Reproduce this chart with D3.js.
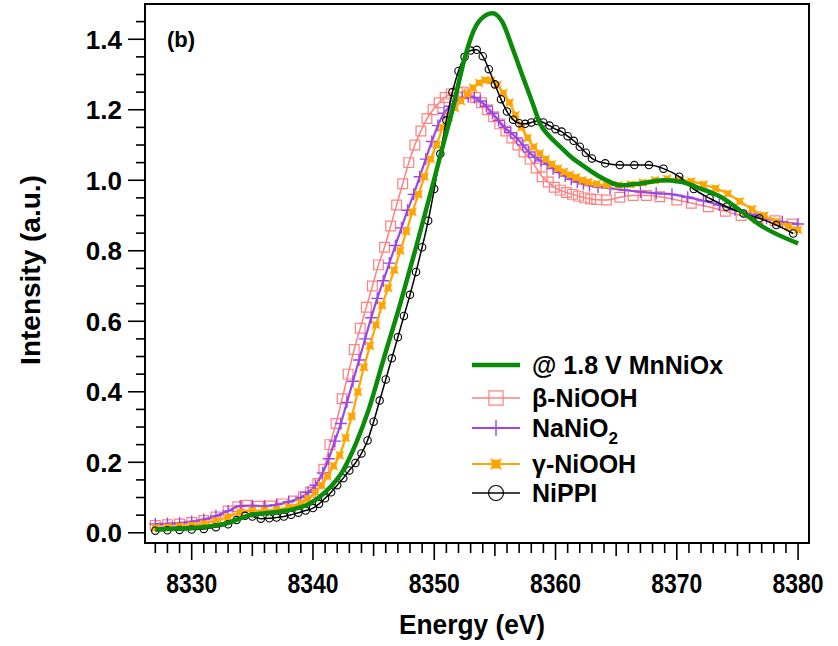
<!DOCTYPE html>
<html>
<head>
<meta charset="utf-8">
<script src="https://cdn.jsdelivr.net/npm/d3@7"></script>
<style>
  body { margin: 0; background: #fff; }
  svg { display: block; }
</style>
</head>
<body>
<div id="chart"></div>
<script>
// ---- datos (energia eV, intensidad u.a.) ----
var mnNiOx = [[8327,0.009],[8329,0.012],[8331,0.016],[8333,0.028],[8334.8,0.050],[8336.5,0.057],[8338.4,0.067],
  [8339.8,0.084],[8341.1,0.118],[8342.5,0.178],[8343.6,0.258],[8344.6,0.35],[8345.8,0.49],[8347.2,0.65],[8348.5,0.81],
  [8349.9,0.99],[8350.5,1.07],[8351.5,1.2],[8352.5,1.345],[8353.2,1.42],[8353.8,1.455],[8354.8,1.474],[8355.6,1.45],
  [8356.5,1.37],[8357.3,1.294],[8358.2,1.21],[8358.7,1.162],[8359.5,1.125],[8360.4,1.095],[8361.5,1.06],[8362,1.048],
  [8363.4,1.015],[8364.2,1.0],[8365.3,0.986],[8367,0.991],[8368.9,1.0],[8370.3,0.996],[8371.9,0.977],[8373.6,0.953],
  [8375.2,0.915],[8377.1,0.868],[8380,0.821]];

var betaNiOOH = [[8327,0.021],[8328,0.023],[8329,0.025],[8330,0.029],[8331,0.035],[8332,0.045],[8333,0.062],[8333.8,0.074],
  [8334.5,0.078],[8335.5,0.075],[8336.5,0.076],[8337.5,0.082],[8338.4,0.09],[8339.2,0.102],[8339.8,0.115],[8340.4,0.14],
  [8340.9,0.18],[8341.4,0.25],[8341.9,0.31],[8342.4,0.38],[8342.9,0.45],[8343.4,0.52],[8343.9,0.58],[8344.4,0.64],
  [8344.9,0.70],[8345.4,0.76],[8345.9,0.81],[8346.4,0.87],[8346.9,0.93],[8347.4,0.99],[8347.9,1.05],[8348.4,1.10],
  [8348.9,1.14],[8349.4,1.175],[8349.9,1.20],[8350.4,1.22],[8350.9,1.235],[8351.4,1.245],[8351.9,1.25],[8352.4,1.25],
  [8352.9,1.245],[8353.4,1.235],[8353.9,1.22],[8354.4,1.20],[8354.9,1.18],[8355.4,1.16],[8355.9,1.14],[8356.4,1.12],
  [8356.9,1.10],[8357.4,1.08],[8357.9,1.06],[8358.4,1.035],[8358.9,1.01],[8359.4,0.995],[8359.9,0.98],[8360.4,0.972],
  [8360.9,0.965],[8361.4,0.96],[8361.9,0.955],[8362.4,0.95],[8362.9,0.947],[8363.4,0.945],[8364.2,0.944],[8365.3,0.952],
  [8366.4,0.957],[8367.5,0.957],[8368.6,0.953],[8370,0.944],[8371.2,0.935],[8372.6,0.925],[8374,0.912],[8375.3,0.9],
  [8376.7,0.892],[8378.1,0.885],[8379.5,0.876]];

var naNiO2 = [[8327,0.025],[8328,0.026],[8329,0.028],[8330,0.032],[8331,0.038],[8332,0.048],[8333,0.062],[8334,0.076],
  [8335,0.077],[8336,0.076],[8337,0.08],[8338,0.088],[8339,0.1],[8339.6,0.115],[8340.2,0.135],[8340.8,0.17],[8341.3,0.21],
  [8341.8,0.26],[8342.3,0.31],[8342.8,0.37],[8343.3,0.43],[8343.8,0.49],[8344.3,0.55],[8344.8,0.61],[8345.3,0.665],
  [8345.8,0.715],[8346.3,0.765],[8346.8,0.815],[8347.3,0.865],[8347.8,0.915],[8348.3,0.96],[8348.8,1.01],[8349.3,1.06],
  [8349.8,1.11],[8350.3,1.155],[8350.8,1.19],[8351.3,1.21],[8351.8,1.225],[8352.3,1.233],[8352.8,1.237],[8353.3,1.235],
  [8353.8,1.225],[8354.3,1.21],[8354.8,1.19],[8355.3,1.17],[8355.8,1.15],[8356.3,1.135],[8356.8,1.12],[8357.3,1.10],
  [8357.8,1.08],[8358.3,1.065],[8358.8,1.055],[8359.3,1.045],[8359.8,1.033],[8360.3,1.022],[8360.8,1.012],[8361.3,1.003],
  [8361.8,0.995],[8362.3,0.99],[8362.8,0.985],[8363.5,0.981],[8364.5,0.977],[8365.7,0.972],[8367,0.967],[8368.3,0.963],
  [8369.6,0.96],[8370.9,0.952],[8372.2,0.942],[8373.5,0.93],[8374.8,0.916],[8376.1,0.903],[8377.4,0.892],[8378.7,0.882],
  [8380,0.876]];

var gammaNiOOH = [[8327,0.014],[8328,0.016],[8329,0.018],[8330,0.021],[8331,0.026],[8332,0.034],[8333,0.045],[8334,0.058],
  [8335,0.063],[8336,0.063],[8337,0.066],[8338,0.073],[8339,0.085],[8339.6,0.097],[8340.2,0.115],[8340.7,0.135],
  [8341.2,0.16],[8341.7,0.19],[8342.2,0.22],[8342.7,0.27],[8343.2,0.33],[8343.7,0.40],[8344.2,0.47],[8344.7,0.53],
  [8345.2,0.59],[8345.7,0.645],[8346.2,0.695],[8346.7,0.745],[8347.2,0.80],[8347.7,0.855],[8348.2,0.91],[8348.7,0.96],
  [8349.2,1.01],[8349.7,1.06],[8350.2,1.10],[8350.7,1.15],[8351.2,1.18],[8351.7,1.205],[8352.2,1.225],[8352.7,1.245],
  [8353.2,1.262],[8353.7,1.276],[8354.2,1.284],[8354.7,1.283],[8355.2,1.27],[8355.7,1.247],[8356.2,1.22],[8356.7,1.185],
  [8357.2,1.15],[8357.7,1.12],[8358.2,1.095],[8358.7,1.076],[8359.2,1.06],[8359.7,1.046],[8360.2,1.034],[8360.7,1.024],
  [8361.2,1.015],[8361.7,1.008],[8362.2,1.0],[8362.7,0.995],[8363.4,0.99],[8364.2,0.986],[8365.2,0.986],[8366.2,0.988],
  [8367.2,0.993],[8368.2,1.0],[8369.2,1.004],[8370.2,1.002],[8371.2,0.997],[8372.2,0.988],[8373.2,0.977],[8374.2,0.962],
  [8375.2,0.94],[8376.2,0.918],[8377.2,0.9],[8378.2,0.883],[8379.2,0.87],[8380,0.859]];

var niPPI = [[8327,0.006],[8328,0.007],[8329,0.008],[8330,0.009],[8331,0.011],[8332,0.016],[8333,0.024],[8333.7,0.036],
  [8334.4,0.048],[8335,0.046],[8335.7,0.04],[8336.4,0.041],[8337,0.043],[8337.6,0.046],[8338.2,0.051],[8338.8,0.057],
  [8339.4,0.063],[8340,0.07],[8340.5,0.082],[8341,0.098],[8341.5,0.115],[8342,0.135],[8342.5,0.155],[8343,0.177],
  [8343.5,0.198],[8344,0.225],[8344.5,0.262],[8345,0.315],[8345.5,0.375],[8346,0.435],[8346.5,0.495],[8347,0.555],
  [8347.5,0.615],[8348,0.675],[8348.5,0.74],[8349,0.81],[8349.5,0.885],[8350,0.975],[8350.5,1.075],[8351,1.17],[8351.5,1.25],
  [8352,1.31],[8352.5,1.35],[8353,1.368],[8353.5,1.37],[8354,1.352],[8354.5,1.315],[8355,1.272],[8355.5,1.23],
  [8356,1.195],[8356.5,1.172],[8357,1.162],[8357.5,1.16],[8358,1.164],[8358.5,1.168],[8359,1.164],[8359.5,1.155],
  [8360,1.145],[8360.5,1.138],[8361,1.125],[8361.5,1.112],[8362,1.095],[8362.5,1.078],[8363,1.062],[8364.1,1.048],
  [8365.3,1.043],[8366.5,1.043],[8367.7,1.043],[8368.9,1.033],[8370.2,1.01],[8371.4,0.975],[8372.7,0.949],[8374.1,0.925],
  [8375.5,0.906],[8376.8,0.892],[8378.2,0.873],[8379.6,0.849]];

var seriesNames = ["@ 1.8 V MnNiOx", "\u03b2-NiOOH", "NaNiO2", "\u03b3-NiOOH", "NiPPI"];
var xTickValues = [8330, 8340, 8350, 8360, 8370, 8380];
var yTickValues = [0.0, 0.2, 0.4, 0.6, 0.8, 1.0, 1.2, 1.4];

(function(){

  // simbolo "corbata" relleno para gamma-NiOOH
  var symbolBow = {
    draw: function(ctx, size){
      var r = Math.sqrt(size) / 2;
      var k = r * 0.35;
      ctx.moveTo(-r, -r);
      ctx.quadraticCurveTo(0, -k, r, -r);
      ctx.quadraticCurveTo(k, 0, r, r);
      ctx.quadraticCurveTo(0, k, -r, r);
      ctx.quadraticCurveTo(-k, 0, -r, -r);
      ctx.closePath();
    }
  };

  // estilos de cada serie (orden de dibujo: rosa, morado, naranja, negro, verde)
  var series = [
    {name: seriesNames[1], data: betaNiOOH, color: "#ff8080", lw: 1.5, sym: d3.symbolSquare, size: 95, legSize: 200, fill: "none", sw: 1.2},
    {name: seriesNames[2], data: naNiO2, color: "#9a47e6", lw: 2.2, plus: true, size: 6, legSize: 8, sw: 1.4},
    {name: seriesNames[3], data: gammaNiOOH, color: "#ffa500", lw: 2.2, sym: symbolBow, size: 85, legSize: 150, fill: "#ffa500", sw: 0},
    {name: seriesNames[4], data: niPPI, color: "#000000", lw: 1.5, circle: true, size: 3.7, legSize: 7.5, sw: 1.1},
    {name: seriesNames[0], data: mnNiOx, color: "#0a8c0a", lw: 4.5}
  ];

  var width = 838, height = 646;
  var mLeft = 145, mRight = 809, mTop = 4, mBottom = 543;
  var font = "Liberation Sans, Arial, sans-serif";

  var svg = d3.select("#chart")
              .append("svg")
              .attr("width", width)
              .attr("height", height);

  var x = d3.scaleLinear().domain([8326.15, 8380.9]).range([mLeft, mRight]);
  var y = d3.scaleLinear().domain([-0.029, 1.5]).range([mBottom, mTop]);

  svg.append("clipPath").attr("id", "plotClip")
     .append("rect")
     .attr("x", mLeft).attr("y", mTop)
     .attr("width", mRight - mLeft).attr("height", mBottom - mTop);

  var line = d3.line()
               .curve(d3.curveMonotoneX)
               .x(function(d){ return x(d[0]); })
               .y(function(d){ return y(d[1]); });

  var plot = svg.append("g").attr("clip-path", "url(#plotClip)");

  // dibuja un marcador centrado en (0,0) dentro de un grupo
  function drawMarker(g, s, big){
    if(s.plus){
      var h = big ? s.legSize : s.size;
      g.append("path")
       .attr("d", "M" + (-h) + ",0H" + h + "M0," + (-h) + "V" + h)
       .attr("stroke", s.color).attr("stroke-width", s.sw).attr("fill", "none");
    } else if(s.circle){
      g.append("circle")
       .attr("r", big ? s.legSize : s.size)
       .attr("fill", "none").attr("stroke", s.color).attr("stroke-width", s.sw);
    } else if(s.sym){
      g.append("path")
       .attr("d", d3.symbol().type(s.sym).size(big ? s.legSize : s.size)())
       .attr("fill", s.fill)
       .attr("stroke", s.fill === "none" ? s.color : "none")
       .attr("stroke-width", s.sw);
    }
  }

  series.forEach(function(s){
    var g = plot.append("g");
    g.append("path")
     .datum(s.data)
     .attr("d", line)
     .attr("fill", "none")
     .attr("stroke", s.color)
     .attr("stroke-width", s.lw)
     .attr("stroke-linejoin", "round");

    if(s.sym || s.plus || s.circle){
      g.selectAll("g.mk")
       .data(s.data)
       .enter().append("g")
       .attr("class", "mk")
       .attr("transform", function(d){ return "translate(" + x(d[0]) + "," + y(d[1]) + ")"; })
       .each(function(){ drawMarker(d3.select(this), s, false); });
    }
  });

  // marco
  svg.append("rect")
     .attr("x", mLeft).attr("y", mTop)
     .attr("width", mRight - mLeft).attr("height", mBottom - mTop)
     .attr("fill", "none").attr("stroke", "#000").attr("stroke-width", 2);

  // eje x: menores cada 1 eV, medios cada 5, mayores cada 10
  var xMinor = d3.range(8327, 8381, 1);
  var xAxis = svg.append("g").attr("transform", "translate(0," + mBottom + ")");
  xAxis.selectAll("line")
       .data(xMinor)
       .enter().append("line")
       .attr("x1", function(d){ return x(d); })
       .attr("x2", function(d){ return x(d); })
       .attr("y1", 0)
       .attr("y2", function(d){ return d % 10 === 0 ? 17 : (d % 5 === 0 ? 13 : 10); })
       .attr("stroke", "#000").attr("stroke-width", 1.6);

  xAxis.selectAll("text")
       .data(xTickValues)
       .enter().append("text")
       .attr("transform", function(d){ return "translate(" + x(d) + ",50) scale(0.82,1)"; })
       .attr("text-anchor", "middle")
       .attr("font-family", font)
       .attr("font-weight", "bold")
       .attr("font-size", 28)
       .attr("fill", "#000")
       .text(function(d){ return d; });

  svg.append("text")
     .attr("transform", "translate(472,634) scale(0.94,1)")
     .attr("text-anchor", "middle")
     .attr("font-family", font)
     .attr("font-weight", "bold")
     .attr("font-size", 28)
     .text("Energy (eV)");

  // eje y: menores cada 0.05, mayores cada 0.2
  var yMinor = d3.range(0, 30).map(function(i){ return i * 0.05; });
  var yAxis = svg.append("g").attr("transform", "translate(" + mLeft + ",0)");
  yAxis.selectAll("line")
       .data(yMinor)
       .enter().append("line")
       .attr("x1", 0)
       .attr("x2", function(d, i){ return i % 4 === 0 ? -17 : -9; })
       .attr("y1", function(d){ return y(d); })
       .attr("y2", function(d){ return y(d); })
       .attr("stroke", "#000").attr("stroke-width", 1.6);

  yAxis.selectAll("text")
       .data(yTickValues)
       .enter().append("text")
       .attr("x", -23)
       .attr("y", function(d){ return y(d); })
       .attr("dy", "0.36em")
       .attr("text-anchor", "end")
       .attr("font-family", font)
       .attr("font-weight", "bold")
       .attr("font-size", 26)
       .text(function(d){ return d.toFixed(1); });

  svg.append("text")
     .attr("transform", "translate(40,270) rotate(-90)")
     .attr("text-anchor", "middle")
     .attr("font-family", font)
     .attr("font-weight", "bold")
     .attr("font-size", 28)
     .text("Intensity (a.u.)");

  // etiqueta del panel
  svg.append("text")
     .attr("x", 167).attr("y", 47)
     .attr("font-family", font)
     .attr("font-weight", "bold")
     .attr("font-size", 22)
     .text("(b)");

  // leyenda
  var legendOrder = [series[4], series[0], series[1], series[2], series[3]];
  var legendY = [365, 398, 428, 464, 493];
  var legend = svg.append("g");
  legendOrder.forEach(function(s, i){
    var g = legend.append("g").attr("transform", "translate(0," + legendY[i] + ")");
    g.append("line")
     .attr("x1", 472).attr("x2", 520)
     .attr("y1", 0).attr("y2", 0)
     .attr("stroke", s.color)
     .attr("stroke-width", s.lw);
    var mk = g.append("g").attr("transform", "translate(496,0)");
    drawMarker(mk, s, true);

    var t = g.append("text")
             .attr("x", 532).attr("dy", "0.36em")
             .attr("font-family", font)
             .attr("font-weight", "bold")
             .attr("font-size", 25);
    if(s.name === "NaNiO2"){
      t.append("tspan").text("NaNiO");
      t.append("tspan").attr("font-size", 17).attr("dy", 7).text("2");
    } else {
      t.text(s.name);
    }
  });

})();
</script>
</body>
</html>
